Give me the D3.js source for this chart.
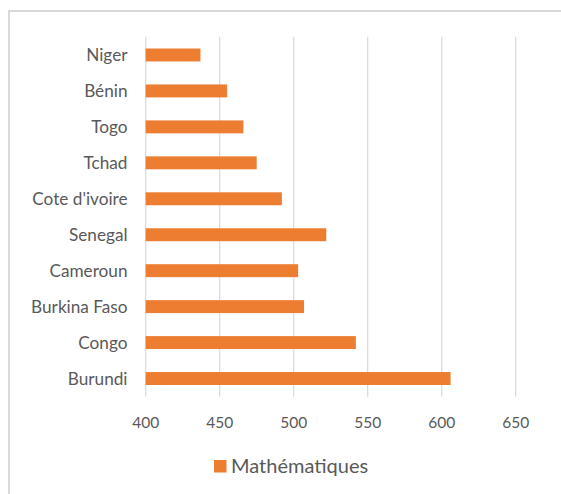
<!DOCTYPE html>
<html>
<head>
<meta charset="utf-8">
<script src="https://cdn.jsdelivr.net/npm/d3@7"></script>
<style>
  html, body { margin: 0; padding: 0; background: #fff; }
  svg { display: block; }
  text { font-family: Lato, "Open Sans", sans-serif; fill: #595959; }
</style>
</head>
<body>
<svg id="chart" width="561" height="494"></svg>
<script>
const categories = ["Niger", "Bénin", "Togo", "Tchad", "Cote d'ivoire", "Senegal", "Cameroun", "Burkina Faso", "Congo", "Burundi"];
const mathValues = [437, 455, 466, 475, 492, 522, 503, 507, 542, 606];
const xTicks = [400, 450, 500, 550, 600, 650];
const seriesName = "Mathématiques";

const svg = d3.select("#chart");

// outer border
svg.append("rect")
  .attr("x", 9).attr("y", 11)
  .attr("width", 600).attr("height", 600)
  .attr("fill", "none")
  .attr("stroke", "#d9d9d9")
  .attr("stroke-width", 2);

const x = d3.scaleLinear().domain([400, 650]).range([145.7, 515.7]);
const y = d3.scaleBand().domain(categories).range([37, 396.5]).paddingInner(0.64).paddingOuter(0.32);

const plotTop = 36.7, plotBottom = 396.7;

// gridlines
svg.append("g").selectAll("line").data(xTicks).join("line")
  .attr("x1", d => x(d)).attr("x2", d => x(d))
  .attr("y1", plotTop).attr("y2", plotBottom)
  .attr("stroke", "#d9d9d9").attr("stroke-width", 1.2);

// bars
svg.append("g").selectAll("rect").data(categories).join("rect")
  .attr("x", x(400))
  .attr("y", d => y(d))
  .attr("width", (d, i) => x(mathValues[i]) - x(400))
  .attr("height", y.bandwidth())
  .attr("fill", "#ED7D31");

// x tick labels
svg.append("g").selectAll("text").data(xTicks).join("text")
  .attr("x", d => x(d)).attr("y", 428)
  .attr("text-anchor", "middle")
  .attr("font-size", 15.5)
  .text(d => d);

// category labels
svg.append("g").selectAll("text").data(categories).join("text")
  .attr("x", 127.5)
  .attr("y", d => y(d) + y.bandwidth() / 2 + 6.3)
  .attr("text-anchor", "end")
  .attr("font-size", 17.2)
  .text(d => d);

// legend
svg.append("rect").attr("x", 214).attr("y", 460).attr("width", 12.5).attr("height", 12.5).attr("fill", "#ED7D31");
svg.append("text").attr("x", 231).attr("y", 473).attr("font-size", 20).text(seriesName);
</script>
</body>
</html>
